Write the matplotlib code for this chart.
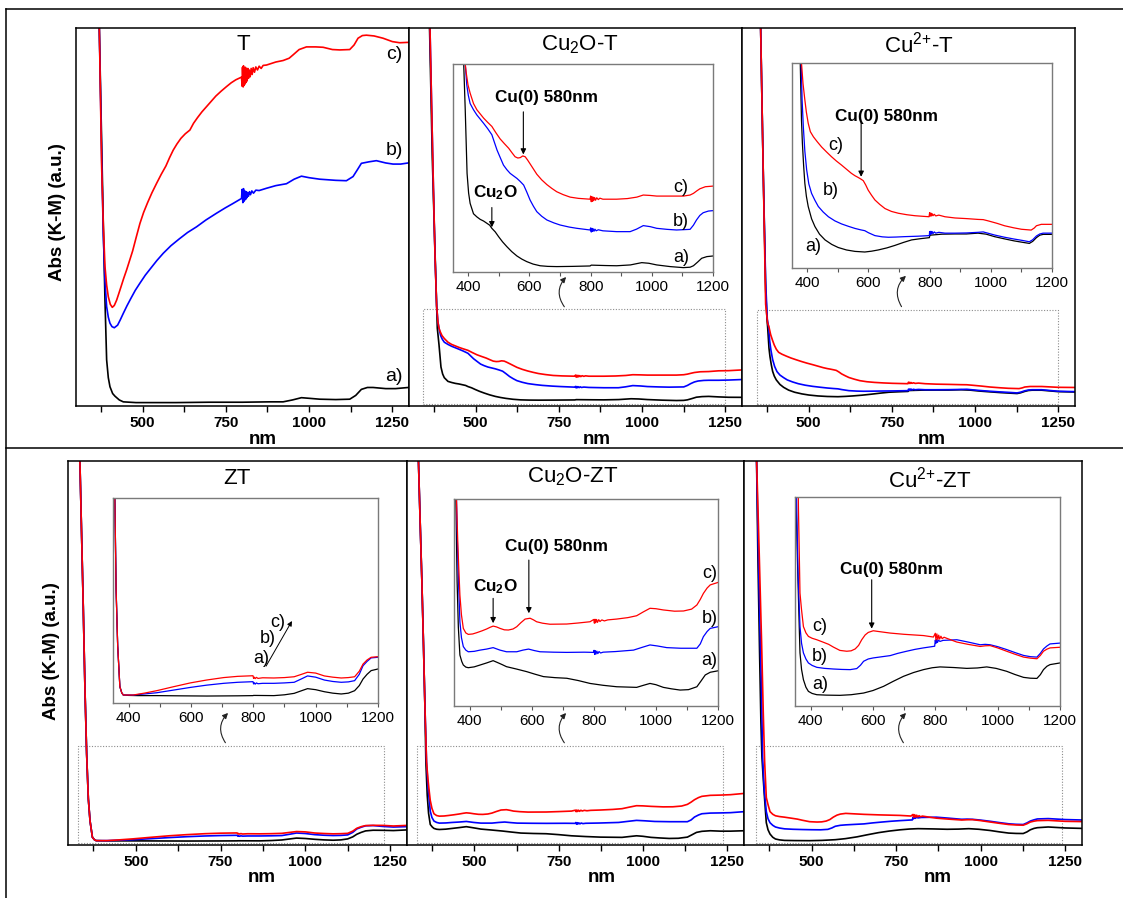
import matplotlib
matplotlib.use("Agg")
import matplotlib.pyplot as plt
import matplotlib.transforms as mtransforms
from matplotlib.patches import Rectangle, FancyArrowPatch
from matplotlib.lines import Line2D

plt.rcParams["font.family"] = ["Liberation Sans", "DejaVu Sans"]
plt.rcParams["mathtext.default"] = "regular"

# ---------------------------------------------------------------------------
# Kubelka-Munk absorbance spectra, (wavelength nm, absorbance a.u.)
# a) black, b) blue, c) red
# ---------------------------------------------------------------------------

# --- T --------------------------------------------------------------------
T_a = [(355, 130), (365, 112), (370, 100), (377, 70), (382, 48), (387, 28), (392, 12.2),
       (397, 7.5), (402, 5.1), (410, 3.3), (417, 2.6), (430, 1.6), (442, 1.1), (480, 0.9),
       (522, 0.9), (600, 0.9), (700, 1.0), (800, 1.0), (880, 1.1), (922, 1.1), (950, 1.6),
       (977, 2.2), (1005, 2.0), (1032, 1.8), (1080, 1.7), (1122, 1.8), (1140, 2.8),
       (1157, 4.4), (1175, 4.9), (1192, 4.9), (1230, 4.6), (1260, 4.6), (1298, 4.9)]
T_b = [(355, 130), (365, 112), (370, 100), (377, 66), (382, 45), (387, 33), (392, 26.3),
       (397, 23.5), (402, 21.9), (408, 21.0), (415, 20.7), (425, 21.4), (433, 22.8),
       (442, 24.5), (453, 26.5), (465, 28.5), (478, 30.6), (492, 32.5), (508, 34.6),
       (525, 36.5), (543, 38.5), (562, 40.4), (585, 42.4), (610, 44.2), (635, 45.9),
       (662, 47.4), (690, 49.2), (722, 51.0), (748, 52.4), (770, 53.5), (797, 54.9),
       (799, 57.3), (801, 53.8), (803, 57.5), (805, 54.2), (807, 56.9), (809, 54.6),
       (811, 56.7), (813, 55.1), (815, 56.5), (818, 55.5), (821, 56.7), (824, 55.9),
       (828, 56.9), (833, 56.3), (840, 57.1), (850, 57.0), (872, 57.6), (900, 58.3),
       (932, 58.8), (955, 60.0), (977, 60.8), (1000, 60.4), (1032, 60.0), (1080, 59.7),
       (1112, 59.6), (1132, 60.7), (1145, 62.5), (1157, 64.2), (1180, 64.6), (1202, 64.9),
       (1230, 64.3), (1252, 64.0), (1275, 64.0), (1298, 64.3)]
T_c = [(355, 130), (365, 112), (370, 100), (377, 63.3), (382, 48), (387, 36.9), (392, 32),
       (397, 28.9), (403, 26.9), (409, 26.1), (415, 26.6), (422, 28.0), (428, 29.6),
       (435, 31.5), (443, 33.7), (452, 36.0), (461, 38.5), (470, 41.0), (481, 44.7),
       (492, 48.3), (503, 51.2), (515, 53.8), (528, 56.4), (542, 58.9), (556, 61.3),
       (570, 63.5), (581, 65.7), (592, 67.7), (603, 69.3), (615, 70.8), (628, 72.0),
       (642, 73.0), (653, 74.8), (665, 76.3), (678, 77.8), (692, 79.2), (706, 80.6),
       (720, 82.0), (736, 83.3), (752, 84.5), (766, 85.5), (780, 86.3), (797, 87.0),
       (799, 84.6), (800, 89.6), (802, 84.4), (803, 90.0), (805, 84.8), (806, 89.5),
       (808, 85.2), (809, 89.6), (811, 85.6), (812, 89.1), (814, 86.0), (816, 89.3),
       (818, 86.7), (820, 88.9), (823, 87.1), (826, 89.3), (829, 87.7), (832, 89.5),
       (836, 88.3), (840, 89.7), (845, 88.9), (850, 89.9), (856, 89.3), (862, 90.1),
       (872, 90.2), (900, 91.0), (922, 91.4), (940, 92.0), (952, 92.9), (970, 94.3),
       (992, 95.0), (1020, 95.0), (1042, 94.9), (1070, 94.3), (1092, 94.2), (1122, 94.3),
       (1135, 95.5), (1147, 97.3), (1160, 98.0), (1172, 98.1), (1195, 97.9), (1222, 97.3),
       (1250, 96.4), (1272, 96.1), (1298, 96.2)]

# --- Cu2O-T ---------------------------------------------------------------
CU2O_T_a = [(355, 600), (362, 500), (370, 330), (377, 220), (381, 160), (385, 100), (390, 78),
            (396, 47.4), (401, 38), (406, 33), (417, 28), (428, 26.5), (439, 25.3), (450, 24.5),
            (461, 23.4), (470, 22.5), (477, 21), (488, 19.3), (499, 17), (512, 14.5),
            (526, 12.2), (542, 9.8), (559, 7.7), (575, 6.2), (591, 5.0), (612, 3.8), (635, 3.0),
            (660, 2.7), (689, 2.6), (740, 2.7), (798, 2.9), (802, 3.3), (850, 3.1), (885, 3.0),
            (930, 3.4), (950, 4.0), (967, 4.5), (990, 4.2), (1016, 3.4), (1060, 2.6),
            (1103, 2.1), (1125, 2.3), (1136, 3.0), (1150, 4.8), (1163, 6.6), (1180, 7.4),
            (1200, 7.7), (1230, 7.0), (1260, 6.5), (1300, 6.4)]
CU2O_T_b = [(355, 640), (363, 506), (368, 400), (373, 297), (378, 200), (383, 130), (387, 108),
            (390, 100), (395, 90), (400, 85), (406, 81), (417, 78), (428, 75.5), (439, 73.5),
            (450, 71.5), (463, 69), (477, 66), (485, 62.5), (494, 58.6), (505, 54.8),
            (515, 51.4), (526, 49.2), (537, 47.4), (548, 46.2), (559, 45), (570, 43.5),
            (581, 41.8), (591, 38.5), (602, 34.6), (613, 31.6), (624, 29), (640, 26.8),
            (657, 25), (680, 23.6), (700, 22.6), (730, 21.6), (755, 21), (798, 20.2),
            (800, 21.2), (802, 19.2), (804, 21.0), (806, 19.5), (808, 20.8), (811, 19.6),
            (814, 20.6), (818, 19.8), (825, 20.3), (840, 19.8), (885, 19.4), (929, 19.4),
            (950, 20.6), (972, 22.3), (995, 21.8), (1016, 21), (1050, 20.5), (1081, 20.2),
            (1125, 20.5), (1136, 22.5), (1146, 25), (1157, 27.2), (1168, 28.5), (1185, 29.3),
            (1200, 29.5), (1230, 29.5), (1260, 29.8), (1300, 30.5)]
CU2O_T_c = [(355, 640), (363, 506), (368, 400), (373, 297), (378, 200), (383, 130), (387, 108),
            (390, 100), (393, 96), (399, 90), (406, 86), (417, 81), (428, 78), (439, 76),
            (450, 74), (463, 72), (477, 70), (490, 67), (504, 64), (518, 61.7), (532, 59.5),
            (543, 57.3), (553, 55.4), (562, 54.8), (570, 55), (578, 55.8), (586, 55.4),
            (594, 53.8), (602, 52), (613, 49.5), (624, 47), (640, 44.3), (657, 42), (673, 40.2),
            (689, 38.6), (710, 37.2), (733, 36), (760, 35.4), (798, 35), (800, 36.5),
            (802, 33.8), (804, 36.2), (806, 34.0), (808, 36.0), (810, 34.3), (813, 35.8),
            (816, 34.5), (820, 35.7), (825, 34.8), (830, 35.5), (840, 35.0), (885, 35),
            (920, 35.3), (951, 36), (972, 37), (995, 36.8), (1016, 36.5), (1060, 36.5),
            (1103, 36.5), (1125, 37), (1136, 37.8), (1147, 39), (1157, 40), (1175, 41),
            (1200, 41.3), (1230, 42.3), (1260, 42.5), (1300, 43.5)]

# --- Cu2+-T ---------------------------------------------------------------
CU2P_T_a = [(350, 600), (356, 495), (364, 300), (371, 150), (375, 110), (377, 100), (381, 72),
            (384, 60.8), (388, 50), (392, 41.3), (397, 35), (403, 30), (414, 24), (425, 20.2),
            (440, 16.5), (458, 13.7), (480, 11.5), (501, 10), (528, 8.8), (556, 8.1),
            (588, 7.8), (610, 8.2), (632, 8.8), (660, 9.8), (686, 11), (715, 12.5), (741, 13.7),
            (770, 14.3), (799, 14.8), (801, 16.0), (840, 16.5), (883, 16.6), (920, 16.6),
            (958, 17), (985, 16.5), (1012, 15.3), (1045, 14.2), (1077, 13.2), (1105, 12.5),
            (1126, 12), (1137, 13), (1149, 14.8), (1160, 16), (1171, 16.4), (1200, 16.4),
            (1250, 14.5), (1300, 14)]
CU2P_T_b = [(350, 600), (356, 495), (364, 300), (371, 160), (376, 110), (380, 100), (383, 82),
            (387, 69), (392, 57), (398, 47.8), (405, 41), (414, 36.4), (425, 33), (436, 30),
            (452, 27.3), (469, 25), (490, 23), (512, 21.5), (535, 20.3), (556, 19.3),
            (575, 18.6), (588, 18.2), (600, 17.2), (621, 15.8), (645, 15.2), (665, 15),
            (690, 15.1), (719, 15.3), (760, 15.5), (799, 15.8), (800, 17.8), (802, 16.4),
            (804, 17.9), (806, 16.6), (808, 17.8), (811, 16.8), (815, 17.6), (820, 17.0),
            (830, 17.4), (850, 17.0), (883, 17), (920, 17.1), (958, 17.4), (975, 17.6),
            (990, 17.0), (1012, 16.1), (1045, 15.0), (1077, 14.1), (1105, 13.4), (1126, 12.8),
            (1137, 13.8), (1149, 15.6), (1160, 16.6), (1171, 17), (1200, 17), (1250, 15),
            (1300, 14.5)]
CU2P_T_c = [(350, 600), (356, 495), (364, 300), (371, 130), (377, 105), (381, 100), (386, 90),
            (392, 82), (397, 76), (403, 70.6), (410, 66.5), (420, 64), (433, 61.5), (447, 59),
            (463, 56.6), (479, 54.3), (495, 52.2), (512, 50.2), (528, 48.2), (544, 46.2),
            (556, 45), (566, 44.2), (575, 43.4), (583, 42.6), (591, 40.5), (599, 38),
            (610, 35.5), (621, 33.2), (637, 31), (654, 29), (675, 27.6), (698, 26.7),
            (725, 26), (752, 25.5), (798, 25), (800, 27.0), (802, 25.3), (804, 26.8),
            (806, 25.4), (808, 26.5), (811, 25.5), (815, 26.2), (820, 25.4), (830, 25.8),
            (850, 25), (883, 24.4), (920, 24.1), (958, 23.7), (975, 23.6), (991, 23),
            (1020, 21.8), (1045, 20.6), (1075, 19.6), (1100, 18.9), (1132, 18.5), (1142, 19.5),
            (1149, 20.6), (1165, 21.3), (1200, 21.3), (1250, 20.2), (1300, 20)]

# --- ZT -------------------------------------------------------------------
ZT_a = [(330, 560), (335, 470), (340, 380), (345, 290), (350, 190), (355, 110), (360, 55),
        (365, 28), (372, 8), (378, 5), (383, 3.9), (400, 3.7), (430, 3.6), (490, 3.6),
        (560, 3.5), (651, 3.4), (750, 3.5), (799, 3.6), (801, 3.7), (866, 3.6), (900, 4.0),
        (931, 4.7), (955, 6.0), (974, 7), (1000, 6.5), (1028, 5.5), (1055, 4.8), (1082, 4.4),
        (1105, 4.8), (1125, 6), (1140, 8.5), (1152, 11.7), (1165, 14), (1178, 15.8),
        (1200, 16.6), (1230, 16.5), (1260, 16.2), (1300, 17)]
ZT_b = [(330, 560), (335, 470), (340, 380), (345, 290), (350, 190), (355, 110), (360, 55),
        (365, 28), (372, 8), (378, 5), (383, 3.9), (415, 3.9), (450, 4.4), (490, 5),
        (540, 6.2), (598, 7.6), (650, 8.7), (705, 9.6), (750, 10.1), (799, 10.4), (801, 9.3),
        (803, 9.9), (806, 9.2), (810, 9.8), (815, 9.4), (830, 9.6), (866, 9.6), (900, 9.8),
        (931, 10.1), (955, 11.8), (974, 13.2), (1000, 12.6), (1028, 11.2), (1055, 10.5),
        (1082, 10.1), (1105, 10.3), (1125, 10.9), (1140, 14), (1152, 18.2), (1165, 20.3),
        (1178, 22), (1200, 22.3), (1230, 21.2), (1260, 20.5), (1300, 21)]
ZT_c = [(330, 560), (335, 470), (340, 380), (345, 290), (350, 190), (355, 110), (360, 55),
        (365, 28), (372, 8), (378, 5), (383, 3.9), (415, 3.9), (450, 4.8), (490, 6),
        (540, 7.8), (598, 9.8), (650, 11.2), (705, 12.4), (750, 13.0), (799, 13.3), (801, 12.0),
        (803, 12.6), (806, 11.9), (810, 12.5), (815, 12.0), (830, 12.3), (866, 12.2),
        (900, 12.4), (931, 12.8), (955, 14.0), (974, 15), (1000, 14.6), (1028, 13.2),
        (1055, 12.6), (1082, 12.2), (1105, 12.4), (1125, 12.8), (1140, 15.5), (1152, 19),
        (1165, 21), (1178, 22.3), (1200, 22.6), (1230, 22.5), (1260, 21.8), (1300, 22.5)]

# --- Cu2O-ZT --------------------------------------------------------------
CU2O_ZT_a = [(330, 560), (334, 463), (339, 390), (344, 320), (349, 240), (353, 170), (356, 100),
             (360, 60), (364, 38), (369, 24.6), (375, 21.5), (380, 19.8), (388, 18.8),
             (396, 18.5), (415, 18.9), (434, 19.8), (455, 20.8), (476, 21.9), (490, 21),
             (505, 20), (519, 19), (550, 17.9), (584, 16.6), (610, 15.4), (638, 14.2),
             (675, 13.7), (713, 13.4), (750, 12.3), (788, 10.9), (830, 10), (874, 9.3),
             (938, 9), (960, 10), (981, 10.9), (1000, 10.3), (1024, 9), (1050, 8.3),
             (1078, 7.7), (1105, 7.9), (1132, 9.3), (1145, 12), (1159, 15), (1175, 16.3),
             (1200, 17), (1230, 16.5), (1260, 16.5), (1300, 17)]
CU2O_ZT_b = [(330, 560), (334, 463), (339, 390), (344, 320), (349, 240), (353, 170), (358, 100),
             (362, 72), (365, 58), (369, 40.7), (374, 33), (380, 28.7), (388, 27), (396, 26.2),
             (415, 26.4), (434, 27), (455, 27.5), (476, 28.2), (498, 27), (519, 26.2),
             (552, 26.2), (572, 27), (590, 27.5), (608, 26.8), (627, 26.2), (670, 26),
             (713, 25.9), (770, 26), (799, 25.9), (801, 26.9), (803, 24.9), (805, 26.7),
             (807, 25.1), (810, 26.5), (813, 25.3), (817, 26.3), (822, 25.6), (830, 26.0),
             (870, 26.3), (928, 27), (955, 28.3), (981, 29.5), (1005, 29.0), (1035, 28.2),
             (1080, 27.9), (1132, 27.9), (1143, 30), (1153, 33.5), (1165, 36), (1175, 37.5),
             (1200, 38.3), (1230, 38.5), (1260, 38.8), (1300, 40)]
CU2O_ZT_c = [(330, 560), (334, 463), (339, 390), (344, 320), (349, 240), (353, 170), (358, 100),
             (362, 80), (365, 68), (369, 53.6), (374, 44), (380, 37.5), (388, 35.3), (396, 34.6),
             (410, 34.8), (423, 35.4), (440, 36.3), (455, 37.2), (466, 38.0), (476, 38.6),
             (487, 38.2), (498, 37.5), (512, 36.8), (525, 36.7), (540, 37.2), (552, 38.3),
             (565, 40.2), (579, 42), (595, 42.4), (606, 41.6), (616, 40.7), (635, 40),
             (659, 39.5), (713, 39.6), (750, 40.1), (788, 40.7), (800, 41.8), (802, 40.0),
             (804, 41.9), (806, 40.2), (809, 41.8), (812, 40.4), (816, 41.7), (820, 40.8),
             (826, 41.6), (834, 41.1), (845, 41.6), (874, 42), (910, 42.7), (938, 43.6),
             (960, 45.5), (981, 47.2), (1000, 47.0), (1024, 46.4), (1060, 45.8), (1089, 45.9),
             (1115, 46.8), (1132, 48.8), (1143, 51.5), (1153, 54.4), (1165, 57), (1175, 58.5),
             (1200, 59.7), (1230, 60), (1260, 60.5), (1300, 62)]

# --- Cu2+-ZT --------------------------------------------------------------
CU2P_ZT_a = [(333, 520), (337, 440), (341, 330), (346, 220), (350, 140), (353, 100), (357, 75),
             (361, 52), (366, 25.4), (371, 17.5), (377, 12.6), (385, 9.0), (393, 7), (405, 6),
             (420, 5.4), (450, 5.2), (494, 5.1), (530, 5.4), (570, 6.2), (600, 7.4),
             (634, 9.4), (665, 11.8), (698, 14.2), (730, 16.0), (762, 17.4), (790, 18.3),
             (815, 18.7), (860, 18.4), (901, 18), (935, 18.2), (965, 18.7), (995, 18),
             (1029, 16.6), (1055, 15.1), (1083, 13.7), (1105, 13.3), (1126, 13.2), (1137, 15),
             (1147, 17.4), (1158, 19), (1168, 19.8), (1200, 20.6), (1250, 19.5), (1300, 19)]
CU2P_ZT_b = [(333, 520), (337, 440), (342, 340), (347, 250), (352, 170), (355, 100), (360, 62),
             (366, 38), (371, 30), (377, 25.4), (385, 22.5), (393, 20.6), (405, 19.4),
             (420, 18.5), (445, 18.0), (473, 17.7), (500, 17.5), (527, 17.4), (548, 17.9),
             (560, 19.5), (570, 21.4), (585, 22.5), (601, 23), (630, 23.6), (655, 24.1),
             (680, 25.2), (708, 26.2), (735, 27.1), (762, 27.8), (798, 28.6), (800, 31.5),
             (802, 30.0), (804, 31.8), (807, 30.4), (810, 31.5), (815, 30.9), (825, 31.4),
             (840, 31.5), (869, 31.7), (905, 30.6), (944, 29.3), (960, 29.5), (976, 29.3),
             (1000, 28.4), (1029, 27), (1055, 25.6), (1083, 24.2), (1105, 23.6), (1126, 23.4),
             (1137, 25.2), (1147, 27.3), (1158, 28.7), (1168, 29.7), (1200, 30.1), (1250, 29),
             (1300, 28.5)]
CU2P_ZT_c = [(333, 520), (337, 440), (345, 330), (352, 230), (357, 150), (361, 95), (366, 54),
             (371, 46), (377, 38), (385, 35), (393, 33.3), (405, 32.4), (420, 31.7), (441, 30.5),
             (458, 29.5), (473, 28.2), (494, 26.6), (516, 26.2), (530, 26.4), (543, 27.3),
             (554, 29), (564, 31.7), (575, 34), (585, 35.2), (601, 36), (620, 35.6), (655, 34.9),
             (700, 34.3), (762, 33.7), (794, 33), (800, 34.8), (802, 31.6), (805, 34.5),
             (808, 31.8), (811, 33.9), (814, 32.0), (818, 33.4), (822, 32.2), (828, 32.9),
             (840, 32.2), (869, 30.6), (905, 29.5), (944, 28.5), (960, 28.8), (976, 28.9),
             (1000, 27.8), (1029, 26.2), (1055, 24.8), (1083, 23.4), (1105, 22.9), (1126, 22.6),
             (1137, 24.2), (1147, 26.2), (1158, 27.2), (1168, 27.8), (1200, 28.1), (1250, 27),
             (1300, 26.7)]

TITLES = ["T", "Cu$_2$O-T", "Cu$^{2{+}}$-T", "ZT", "Cu$_2$O-ZT", "Cu$^{2{+}}$-ZT"]
MAIN_TICKS = [500, 750, 1000, 1250]
INSET_TICKS = [400, 600, 800, 1000, 1200]
CURVE_LABELS = ["a)", "b)", "c)"]
PEAK_LABEL = "Cu(0) 580nm"
OXIDE_LABEL = "Cu$_2$O"
YLABEL = "Abs (K-M) (a.u.)"
XLABEL = "nm"

COLORS = ["black", "#0000ff", "#ff0000"]

# ---------------------------------------------------------------------------
W, H = 1123, 898
fig = plt.figure(figsize=(W / 100, H / 100), dpi=100)


def fx(x):
    return x / W


def fy(y):
    return 1 - y / H


def rect(l, t, r, b):
    return [fx(l), fy(b), (r - l) / W, (b - t) / H]


def draw(ax, series, lw):
    for pts, col in zip(series, COLORS):
        ax.plot([p[0] for p in pts], [p[1] for p in pts], color=col, lw=lw,
                solid_joinstyle="round")


def style_main(ax, ylim):
    ax.set_xlim(300, 1300)
    ax.set_ylim(*ylim)
    ax.set_xticks(MAIN_TICKS)
    ax.set_xticks([375, 625, 875, 1125], minor=True)
    ax.set_yticks([])
    ax.tick_params(axis="x", which="both", direction="out", length=4, width=1,
                   pad=3, labelsize=11)
    for lab in ax.get_xticklabels():
        lab.set_fontweight("bold")
    for s in ax.spines.values():
        s.set_linewidth(1.1)


def style_inset(ax):
    ax.set_xlim(350, 1200)
    ax.set_ylim(0, 100)
    ax.set_xticks(INSET_TICKS)
    ax.set_xticks([500, 700, 900, 1100], minor=True)
    ax.set_yticks([])
    ax.tick_params(axis="x", which="both", direction="out", length=3, width=0.8,
                   color="#555555", pad=2.5, labelsize=11)
    for s in ax.spines.values():
        s.set_linewidth(1.0)
        s.set_edgecolor("#7a7a7a")


def zoom_box(ax, x0, x1, ytop):
    tr = mtransforms.blended_transform_factory(ax.transData, ax.transAxes)
    ax.add_patch(Rectangle((x0, 0.005), x1 - x0, ytop - 0.005, transform=tr, fill=False,
                           ec="#8c8c8c", lw=0.8, ls=(0, (1, 1.5)), zorder=0.5))


def curved_arrow(p0, p1):
    fig.add_artist(FancyArrowPatch((fx(p0[0]), fy(p0[1])), (fx(p1[0]), fy(p1[1])),
                                   transform=fig.transFigure,
                                   connectionstyle="arc3,rad=-0.45",
                                   arrowstyle="-|>", mutation_scale=8, lw=0.8,
                                   color="#222222"))


def pointer(ax, x, y0, y1):
    ax.annotate("", xy=(x, y1), xytext=(x, y0),
                arrowprops=dict(arrowstyle="-|>", lw=0.8, color="black",
                                mutation_scale=8, shrinkA=0, shrinkB=0))


# main panel layout (pixel edges) and vertical ranges
panels = [
    dict(box=(76, 28, 409, 406), ylim=(0, 100), series=(T_a, T_b, T_c)),
    dict(box=(409, 28, 742, 406), ylim=(-5.3, 506), series=(CU2O_T_a, CU2O_T_b, CU2O_T_c),
         inset=(453, 64, 713, 272), zoom=(342, 1250, 0.257), arrow=((566, 309), (568, 275))),
    dict(box=(742, 28, 1075, 406), ylim=(-4.5, 495.5), series=(CU2P_T_a, CU2P_T_b, CU2P_T_c),
         inset=(792, 63, 1052, 268), zoom=(345, 1248, 0.254), arrow=((903, 309), (908, 274))),
    dict(box=(68, 461, 407, 845), ylim=(-1.45, 468), series=(ZT_a, ZT_b, ZT_c),
         inset=(113, 498, 378, 703), zoom=(330, 1232, 0.258), arrow=((227, 745), (230, 711))),
    dict(box=(407, 461, 744, 845), ylim=(-0.2, 463), series=(CU2O_ZT_a, CU2O_ZT_b, CU2O_ZT_c),
         inset=(454, 499, 718, 706), zoom=(330, 1238, 0.258), arrow=((566, 745), (568, 711))),
    dict(box=(744, 461, 1082, 845), ylim=(0.2, 435), series=(CU2P_ZT_a, CU2P_ZT_b, CU2P_ZT_c),
         inset=(795, 497, 1060, 706), zoom=(336, 1241, 0.258), arrow=((905, 745), (908, 711))),
]

title_pos = [(243, 44), (580, 45), (919, 45), (237, 479), (573, 477), (930, 480)]
xlabel_pos = [(263, 439), (597, 439), (932, 439), (262, 878), (602, 878), (938, 878)]

insets = []
for i, p in enumerate(panels):
    ax = fig.add_axes(rect(*p["box"]))
    draw(ax, p["series"], 1.2)
    style_main(ax, p["ylim"])
    if "inset" in p:
        zoom_box(ax, *p["zoom"])
        ins = fig.add_axes(rect(*p["inset"]))
        draw(ins, p["series"], 0.9)
        style_inset(ins)
        insets.append(ins)
        curved_arrow(*p["arrow"])
    else:
        insets.append(None)
        for lab, y in zip(CURVE_LABELS, (7.7, 67.7, 92.9)):
            ax.text(1255, y, lab, ha="center", va="center", fontsize=14)
    fig.text(fx(title_pos[i][0]), fy(title_pos[i][1]), TITLES[i], ha="center",
             va="center", fontsize=16)
    fig.text(fx(xlabel_pos[i][0]), fy(xlabel_pos[i][1]), XLABEL, ha="center",
             va="center", fontsize=13.5, fontweight="bold")

# annotations inside the insets
LBL = 13
ANN = 12.3
ax = insets[1]
ax.text(657, 84, PEAK_LABEL, ha="center", va="center", fontsize=ANN, fontweight="bold")
pointer(ax, 580, 77, 56.5)
ax.text(490, 38, OXIDE_LABEL, ha="center", va="center", fontsize=ANN, fontweight="bold")
pointer(ax, 477, 31, 21.5)
for lab, y in zip(CURVE_LABELS, (7, 24.5, 40.5)):
    ax.text(1095, y, lab, ha="center", va="center", fontsize=LBL)

ax = insets[2]
ax.text(660, 73.8, PEAK_LABEL, ha="center", va="center", fontsize=ANN, fontweight="bold")
pointer(ax, 576, 71, 44.5)
for lab, (x, y) in zip(CURVE_LABELS, ((419, 10.4), (478, 37.7), (494, 60))):
    ax.text(x, y, lab, ha="center", va="center", fontsize=LBL)

ax = insets[3]
for lab, (x, y) in zip(CURVE_LABELS, ((825, 21.5), (847, 31.7), (879, 39.5))):
    ax.text(x, y, lab, ha="center", va="center", fontsize=LBL)
ax.annotate("", xy=(924, 40), xytext=(841, 18),
            arrowprops=dict(arrowstyle="-|>", lw=0.7, color="black", mutation_scale=7,
                            shrinkA=0, shrinkB=0))

ax = insets[4]
ax.text(681, 77, PEAK_LABEL, ha="center", va="center", fontsize=ANN, fontweight="bold")
pointer(ax, 591, 70.5, 44.8)
ax.text(484, 57.6, OXIDE_LABEL, ha="center", va="center", fontsize=ANN, fontweight="bold")
pointer(ax, 476, 52, 40)
for lab, y in zip(CURVE_LABELS, (22.2, 42.4, 64)):
    ax.text(1172, y, lab, ha="center", va="center", fontsize=LBL)

ax = insets[5]
ax.text(660, 65.2, PEAK_LABEL, ha="center", va="center", fontsize=ANN, fontweight="bold")
pointer(ax, 596, 60.4, 37)
for lab, y in zip(CURVE_LABELS, (10.2, 23.8, 37.8)):
    ax.text(430, y, lab, ha="center", va="center", fontsize=LBL)

# y-axis titles
fig.text(fx(58), fy(212), YLABEL, rotation=90, ha="center", va="center", fontsize=13.5,
         fontweight="bold")
fig.text(fx(52), fy(651), YLABEL, rotation=90, ha="center", va="center", fontsize=13.5,
         fontweight="bold")

# outer frame and row separator
for (x0, y0, x1, y1) in [(6, 9, W, 9), (6, 9, 6, H), (6, 447.5, W, 447.5)]:
    fig.add_artist(Line2D([fx(x0), fx(x1)], [fy(y0), fy(y1)], transform=fig.transFigure,
                          color="black", lw=1.1))

fig.savefig("out.png", dpi=100)
